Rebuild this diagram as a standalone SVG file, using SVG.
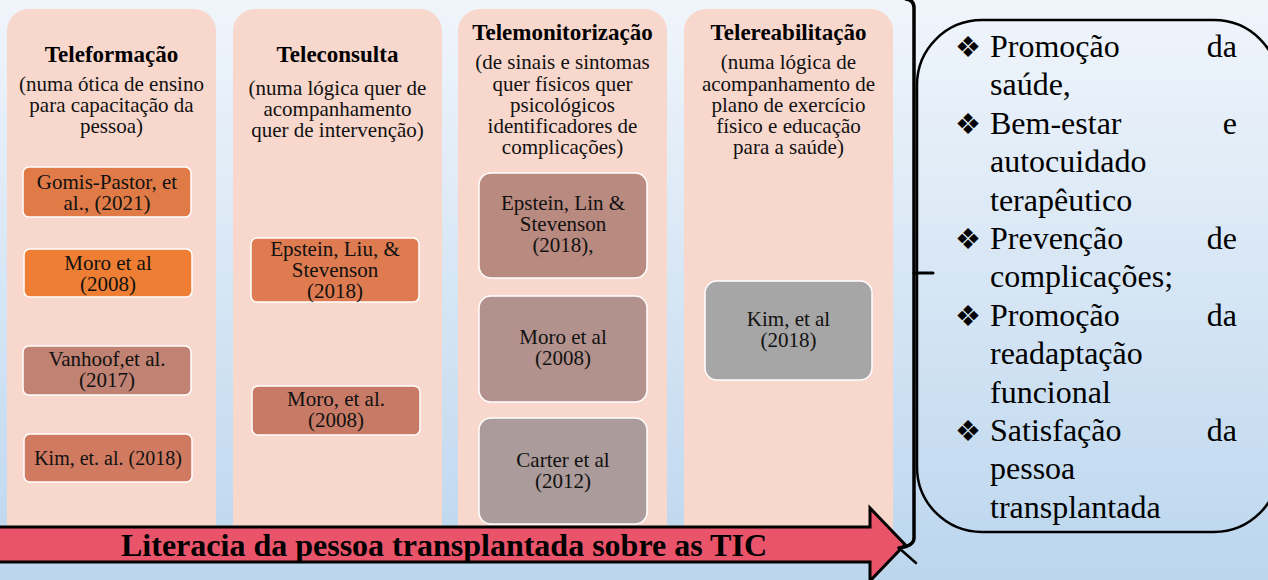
<svg xmlns="http://www.w3.org/2000/svg" width="1268" height="580" viewBox="0 0 1268 580">
<defs>
<linearGradient id="bg" x1="0" y1="0" x2="0" y2="1">
<stop offset="0" stop-color="#f0f5fb"/>
<stop offset="1" stop-color="#bcd6ee"/>
</linearGradient>
</defs>
<style>
text{font-family:"Liberation Serif","Times New Roman",serif}
.col{fill:#f8d7cc}
.ref{stroke:#ffffff;stroke-width:1.5}
.h{font-weight:bold;font-size:23px;fill:#000;text-anchor:middle}
.s{font-size:21px;fill:#111;text-anchor:middle}
.b{font-size:21px;fill:#111;text-anchor:middle}
.r{font-size:32px;fill:#000}
text.bul{font-size:29px;fill:#000;font-family:"DejaVu Sans",sans-serif}
.e{text-anchor:end}
.line{fill:none;stroke:#000;stroke-linecap:round;stroke-linejoin:round}
</style>
<rect x="0" y="0" width="1268" height="580" fill="url(#bg)"/>

<g id="col-teleformacao">
<rect class="col" x="7" y="9" width="209" height="540" rx="22"/>
<text class="h" x="111.5" y="62">Teleformação</text>
<text class="s" x="111.5" y="91">(numa ótica de ensino</text>
<text class="s" x="111.5" y="112">para capacitação da</text>
<text class="s" x="111.5" y="133">pessoa)</text>
</g>
<g id="ref-gomis">
<rect class="ref" x="23" y="167" width="168" height="50" rx="6" fill="#e07b47"/>
<text class="b" x="107" y="189">Gomis-Pastor, et</text>
<text class="b" x="107" y="210">al., (2021)</text>
</g>
<g id="ref-moro1">
<rect class="ref" x="24" y="249" width="168" height="48" rx="6" fill="#ee7e33"/>
<text class="b" x="108" y="270">Moro et al</text>
<text class="b" x="108" y="291">(2008)</text>
</g>
<g id="ref-vanhoof">
<rect class="ref" x="23" y="346" width="168" height="49" rx="6" fill="#c08272"/>
<text class="b" x="107" y="366">Vanhoof,et al.</text>
<text class="b" x="107" y="387">(2017)</text>
</g>
<g id="ref-kim1">
<rect class="ref" x="24" y="434" width="168" height="48" rx="6" fill="#cf7a61"/>
<text class="b" x="108" y="465" style="font-size:20px">Kim, et. al. (2018)</text>
</g>

<g id="col-teleconsulta">
<rect class="col" x="233" y="9" width="209" height="540" rx="22"/>
<text class="h" x="337.5" y="62">Teleconsulta</text>
<text class="s" x="337.5" y="95">(numa lógica quer de</text>
<text class="s" x="337.5" y="116">acompanhamento</text>
<text class="s" x="337.5" y="137">quer de intervenção)</text>
</g>
<g id="ref-epstein1">
<rect class="ref" x="251" y="238" width="168" height="64" rx="6" fill="#de7b50"/>
<text class="b" x="335" y="256">Epstein, Liu, &amp;</text>
<text class="b" x="335" y="277">Stevenson</text>
<text class="b" x="335" y="298">(2018)</text>
</g>
<g id="ref-moro2">
<rect class="ref" x="252" y="386" width="168" height="49" rx="6" fill="#c77a66"/>
<text class="b" x="336" y="406">Moro, et al.</text>
<text class="b" x="336" y="427">(2008)</text>
</g>

<g id="col-telemonitorizacao">
<rect class="col" x="458" y="9" width="209" height="540" rx="22"/>
<text class="h" x="562.5" y="40">Telemonitorização</text>
<text class="s" x="562.5" y="69">(de sinais e sintomas</text>
<text class="s" x="562.5" y="91">quer físicos quer</text>
<text class="s" x="562.5" y="112">psicológicos</text>
<text class="s" x="562.5" y="133">identificadores de</text>
<text class="s" x="562.5" y="154">complicações)</text>
</g>
<g id="ref-epstein2">
<rect class="ref" x="479" y="173" width="168" height="105" rx="12" fill="#b98a80"/>
<text class="b" x="563" y="210">Epstein, Lin &amp;</text>
<text class="b" x="563" y="231">Stevenson</text>
<text class="b" x="563" y="252">(2018),</text>
</g>
<g id="ref-moro3">
<rect class="ref" x="479" y="296" width="168" height="106" rx="12" fill="#b3918c"/>
<text class="b" x="563" y="344">Moro et al</text>
<text class="b" x="563" y="365">(2008)</text>
</g>
<g id="ref-carter">
<rect class="ref" x="479" y="418" width="168" height="106" rx="12" fill="#ab9b9a"/>
<text class="b" x="563" y="467">Carter et al</text>
<text class="b" x="563" y="488">(2012)</text>
</g>

<g id="col-telereabilitacao">
<rect class="col" x="684" y="9" width="209" height="540" rx="22"/>
<text class="h" x="788.5" y="40">Telereabilitação</text>
<text class="s" x="788.5" y="69">(numa lógica de</text>
<text class="s" x="788.5" y="91">acompanhamento de</text>
<text class="s" x="788.5" y="112">plano de exercício</text>
<text class="s" x="788.5" y="133">físico e educação</text>
<text class="s" x="788.5" y="154">para a saúde)</text>
</g>
<g id="ref-kim2">
<rect class="ref" x="705" y="281" width="167" height="99" rx="12" fill="#a6a6a6"/>
<text class="b" x="788.5" y="326">Kim, et al</text>
<text class="b" x="788.5" y="347">(2018)</text>
</g>

<g id="arrow-literacia">
<polygon points="-5,527 870,527 870,508 905,544.5 870,581 870,562 -5,562" fill="#e9546b" stroke="#000" stroke-width="3" stroke-linejoin="miter"/>
<text x="444" y="556" style="font-weight:bold;font-size:32px;fill:#000;text-anchor:middle">Literacia da pessoa transplantada sobre as TIC</text>
</g>

<g id="connectors">
<path class="line" d="M 906 -1 Q 914 0 914 8 V 538 Q 914 546 899 548" stroke-width="3.5"/>
<path class="line" d="M 899 548 L 916 563" stroke-width="2.5"/>
<path class="line" d="M 914 273 H 933" stroke-width="3"/>
</g>

<g id="outcomes">
<rect x="917" y="20" width="362" height="512" rx="65" fill="none" stroke="#000" stroke-width="2.5"/>
<text class="bul" x="955" y="57">❖</text>
<text class="bul" x="955" y="134">❖</text>
<text class="bul" x="955" y="249">❖</text>
<text class="bul" x="955" y="326">❖</text>
<text class="bul" x="955" y="441">❖</text>
<text class="r" x="990" y="57">Promoção</text>
<text class="r e" x="1237" y="57">da</text>
<text class="r" x="990" y="95.4">saúde,</text>
<text class="r" x="990" y="133.8">Bem-estar</text>
<text class="r e" x="1237" y="133.8">e</text>
<text class="r" x="990" y="172.2">autocuidado</text>
<text class="r" x="990" y="210.6">terapêutico</text>
<text class="r" x="990" y="249">Prevenção</text>
<text class="r e" x="1237" y="249">de</text>
<text class="r" x="990" y="287.4">complicações;</text>
<text class="r" x="990" y="325.8">Promoção</text>
<text class="r e" x="1237" y="325.8">da</text>
<text class="r" x="990" y="364.2">readaptação</text>
<text class="r" x="990" y="402.6">funcional</text>
<text class="r" x="990" y="441">Satisfação</text>
<text class="r e" x="1237" y="441">da</text>
<text class="r" x="990" y="479.4">pessoa</text>
<text class="r" x="990" y="517.8">transplantada</text>
</g>
</svg>
